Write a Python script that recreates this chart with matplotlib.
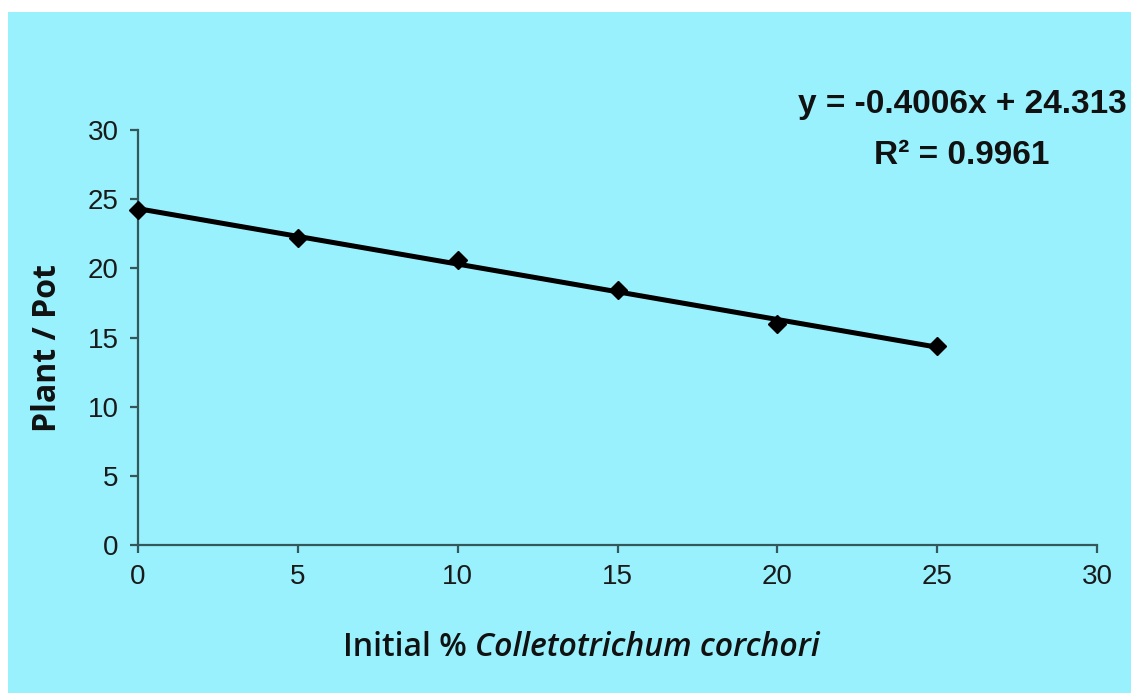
import numpy as np
import matplotlib
matplotlib.use("Agg")
from matplotlib import pyplot as plt
from matplotlib.patches import Rectangle

# data
infection = [0, 5, 10, 15, 20, 25]
plants = [24.2, 22.2, 20.6, 18.4, 16.0, 14.4]

# trendline coefficients as printed on the chart
slope = -0.4006
intercept = 24.313
r_squared = 0.9961

bg = '#98f1fc'
spine_col = '#34575c'

fig = plt.figure(figsize=(11.31, 6.93), dpi=100, facecolor='white')
# cyan panel, leaving a thin white border top and left
fig.patches.append(Rectangle((8 / 1131, 0), 1, 1 - 12 / 693, transform=fig.transFigure,
                             facecolor=bg, edgecolor='none', zorder=-10))

ax = fig.add_axes([138 / 1131, 1 - 545 / 693, (1097 - 138) / 1131, (545 - 130) / 693])
ax.set_facecolor('none')

trend_x = np.array([infection[0], infection[-1]])
ax.plot(trend_x, slope * trend_x + intercept, color='black', lw=3.6, zorder=2,
        solid_capstyle='butt')
ax.plot(infection, plants, linestyle='none', marker='D', color='black',
        markersize=9.5, zorder=3, clip_on=False)

ax.set_xlim(0, 30)
ax.set_ylim(0, 30)
ax.set_xticks(range(0, 31, 5))
ax.set_yticks(range(0, 31, 5))

for s in ['top', 'right']:
    ax.spines[s].set_visible(False)
for s in ['left', 'bottom']:
    ax.spines[s].set_color(spine_col)
    ax.spines[s].set_linewidth(1.6)

ax.tick_params(direction='out', length=6, width=1.6, color=spine_col,
               labelsize=20, labelcolor='#1a1a1a', pad=8)
for lab in ax.get_xticklabels() + ax.get_yticklabels():
    lab.set_fontfamily('Liberation Sans')

fig.text(48 / 1131, 1 - 348 / 693, 'Plant / Pot', rotation=90, ha='center', va='center',
         fontsize=23, fontweight='bold', family='Open Sans', color='#111111')

# x label: upright part then italic species name
t1 = fig.text(343 / 1131, 1 - 648 / 693, 'Initial % ', ha='left', va='center',
              fontsize=23, fontweight='semibold', family='Open Sans', color='#111111')
fig.canvas.draw()
bb = t1.get_window_extent()
fig.text(bb.x1 / fig.bbox.width, 1 - 648 / 693, 'Colletotrichum corchori', ha='left',
         va='center', fontsize=23, fontweight='semibold', fontstyle='italic',
         family='Open Sans', color='#111111')

fig.text(1127 / 1131, 1 - 104 / 693, 'y = %.4fx + %.3f' % (slope, intercept),
         ha='right', va='center', fontsize=24, fontweight='bold',
         family='Liberation Sans', color='#111111')
fig.text(1049 / 1131, 1 - 155 / 693, 'R\u00b2 = %.4f' % r_squared,
         ha='right', va='center', fontsize=24, fontweight='bold',
         family='Liberation Sans', color='#111111')

fig.savefig('out.png', dpi=100, facecolor='white')
